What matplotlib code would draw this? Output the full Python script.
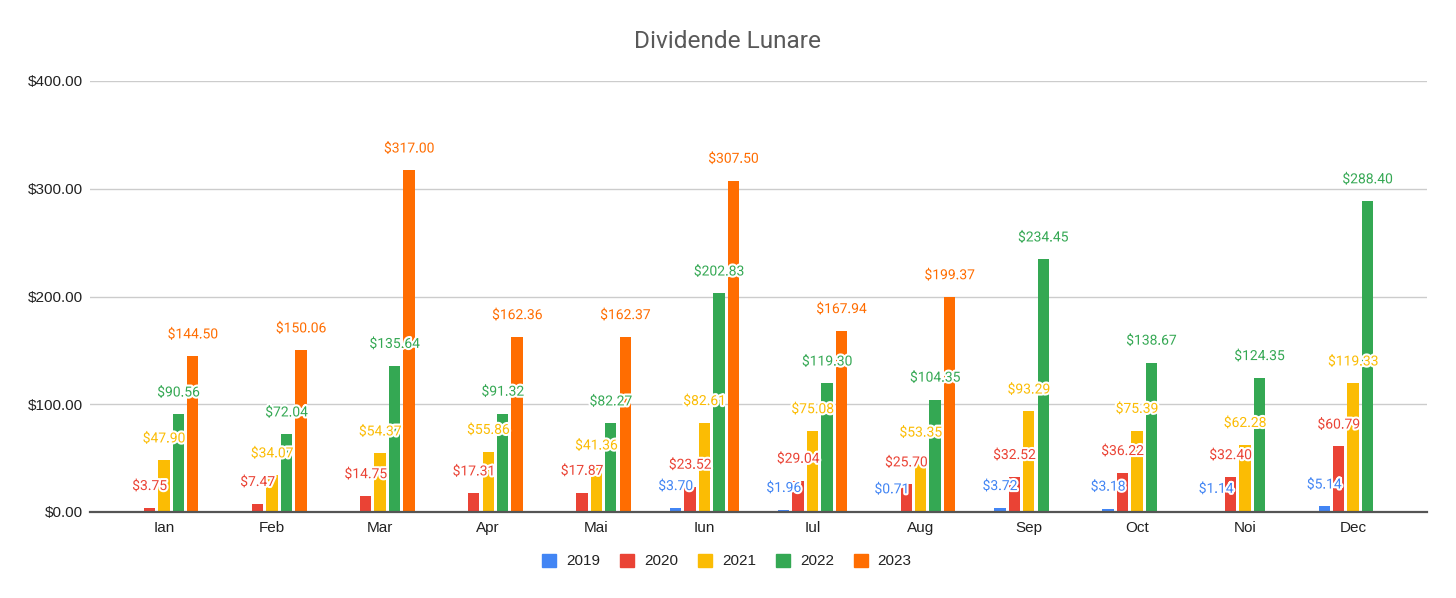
import matplotlib
matplotlib.use("Agg")
import matplotlib.pyplot as plt
import matplotlib.patheffects as pe
from matplotlib.patches import Patch
import numpy as np

months = ["Ian", "Feb", "Mar", "Apr", "Mai", "Iun", "Iul", "Aug", "Sep", "Oct", "Noi", "Dec"]
years = ["2019", "2020", "2021", "2022", "2023"]
v2019 = [None, None, None, None, None, 3.70, 1.96, 0.71, 3.72, 3.18, 1.14, 5.14]
v2020 = [3.75, 7.47, 14.75, 17.31, 17.87, 23.52, 29.04, 25.70, 32.52, 36.22, 32.40, 60.79]
v2021 = [47.90, 34.07, 54.37, 55.86, 41.36, 82.61, 75.08, 53.35, 93.29, 75.39, 62.28, 119.33]
v2022 = [90.56, 72.04, 135.64, 91.32, 82.27, 202.83, 119.30, 104.35, 234.45, 138.67, 124.35, 288.40]
v2023 = [144.50, 150.06, 317.00, 162.36, 162.37, 307.50, 167.94, 199.37, None, None, None, None]
series = [v2019, v2020, v2021, v2022, v2023]
colors = ["#4285F4", "#EA4335", "#FBBC04", "#34A853", "#FF6D01"]
yticks = [0, 100, 200, 300, 400]

fig = plt.figure(figsize=(14.56, 5.98), dpi=100)
ax = fig.add_axes([90/1456, 1-512/598, (1427-90)/1456, (512-81)/598])

x = np.arange(len(months))
pitch = 0.1335
width = 0.105
for k, (vals, col) in enumerate(zip(series, colors)):
    off = (k - 2) * pitch
    xs = [xi + off for xi, v in zip(x, vals) if v is not None]
    vs = [v for v in vals if v is not None]
    ax.bar(xs, vs, width=width, color=col, zorder=3)
    for xi, v in zip(xs, vs):
        ax.annotate(f"${v:,.2f}", (xi, v), xytext=(0, 15.8), textcoords="offset points",
                    ha="center", va="center", fontsize=10, color=col, family="Roboto",
                    zorder=5,
                    path_effects=[pe.withStroke(linewidth=3, foreground="white")])

ax.set_xlim(-0.684, 11.684)
ax.set_ylim(0, 400)
ax.set_yticks(yticks)
ax.set_yticklabels([f"${t:,.2f}" for t in yticks])
ax.set_xticks(x)
ax.set_xticklabels(months)
ax.tick_params(axis="both", length=0, labelsize=11, labelcolor="#222222")
ax.tick_params(axis="x", pad=6.5)
ax.tick_params(axis="y", pad=5)
for lab in ax.get_xticklabels() + ax.get_yticklabels():
    lab.set_family("Liberation Sans")
ax.grid(axis="y", color="#cccccc", linewidth=1, zorder=0)
for s in ["top", "right", "left"]:
    ax.spines[s].set_visible(False)
ax.spines["bottom"].set_color("#555555")
ax.spines["bottom"].set_linewidth(1.6)
ax.spines["bottom"].set_zorder(4)

fig.text(0.5, 1-41/598, "Dividende Lunare", ha="center", va="center", fontsize=17.6,
         color="#595959", family="Roboto")

handles = [Patch(facecolor=c, edgecolor=c) for c in colors]
fig.legend(handles, years, loc="center", bbox_to_anchor=(727/1456, 1-561/598), ncol=5,
           frameon=False, prop={"family": "Liberation Sans", "size": 11},
           handlelength=0.92, handleheight=0.92, handletextpad=0.65, columnspacing=1.3,
           labelcolor="#222222")

fig.savefig("out.png", dpi=100, facecolor="white")
